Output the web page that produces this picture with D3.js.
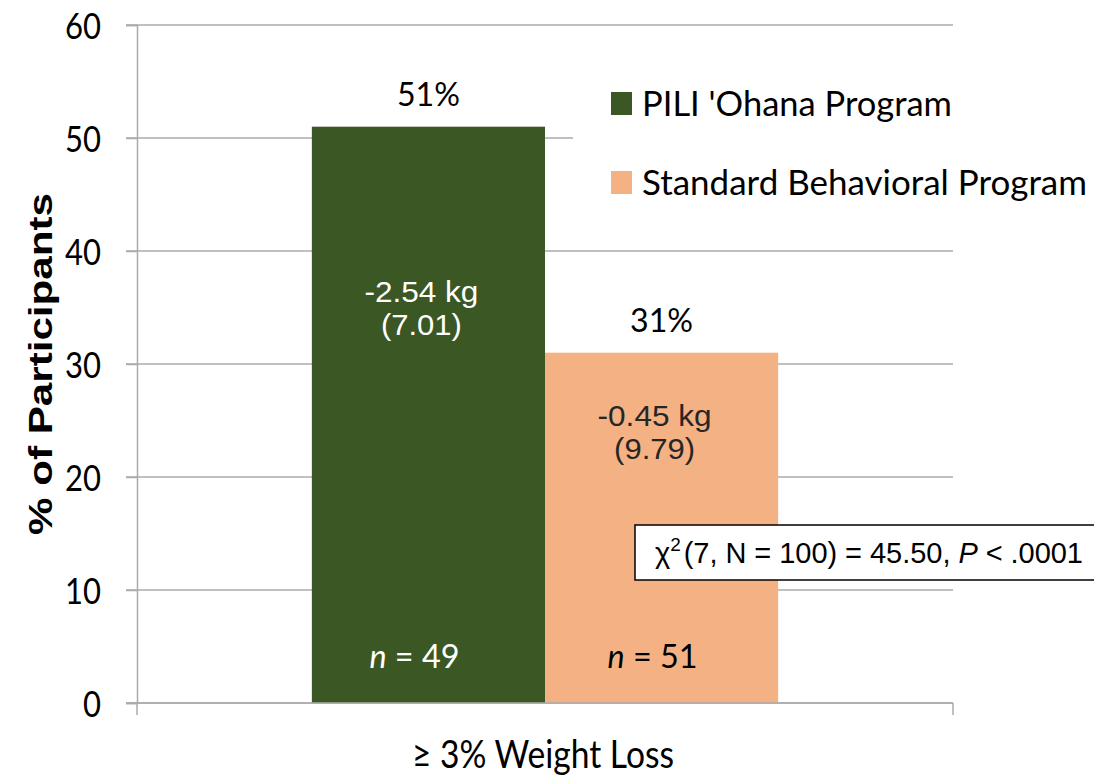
<!DOCTYPE html>
<html>
<head>
<meta charset="utf-8">
<script src="https://cdn.jsdelivr.net/npm/d3@7/dist/d3.min.js"></script>
<style>
  html, body { margin: 0; padding: 0; background: #ffffff; }
  svg { display: block; }
</style>
</head>
<body>
<svg id="chart" width="1094" height="777"></svg>
<script>
// ---- data ----
const categories = ["≥ 3% Weight Loss"];
const seriesNames = ["PILI 'Ohana Program", "Standard Behavioral Program"];
const seriesValues = [51, 31];
const valueLabels = ["51%", "31%"];
const weightChange = ["-2.54 kg", "-0.45 kg"];
const weightSD = ["(7.01)", "(9.79)"];
const sampleSizes = ["49", "51"];
const yTicks = [0, 10, 20, 30, 40, 50, 60];
const yTitle = "% of Participants";
const statParts = { df: "7", N: "100", chi: "45.50", p: ".0001" };

// ---- styles ----
const colors = ["#3A5724", "#F4B183"];
const innerText = ["#ffffff", "#262626"];
const gridColor = "#ABABAB";
const sansC = "Lato, 'Open Sans', sans-serif";
const sansA = "'Liberation Sans', Arial, sans-serif";

const svg = d3.select("#chart");
const plotL = 137, plotR = 953, plotT = 25, plotB = 703;

const y = d3.scaleLinear().domain([0, 60]).range([plotB, plotT]);
const x0 = d3.scaleBand().domain(categories).range([plotL, plotR]).paddingInner(0).paddingOuter(0);
const x1 = d3.scaleBand().domain(seriesNames).range([0, x0.bandwidth()]).paddingInner(0).paddingOuter(0.75);

// gridlines
svg.append("g").selectAll("line").data(yTicks).join("line")
  .attr("x1", plotL - 11).attr("x2", plotR)
  .attr("y1", d => y(d)).attr("y2", d => y(d))
  .attr("stroke", gridColor).attr("stroke-width", 1.5);

// y axis
const yAxis = svg.append("g").attr("transform", `translate(${plotL},0)`)
  .call(d3.axisLeft(y).tickValues(yTicks).tickSize(11).tickPadding(25));
yAxis.select(".domain").attr("stroke", gridColor).attr("stroke-width", 1.5);
yAxis.selectAll(".tick line").attr("stroke", gridColor).attr("stroke-width", 1.5);
yAxis.selectAll(".tick text")
  .attr("font-family", sansC).attr("font-size", 37).attr("fill", "#000")
  .attr("dy", "0.36em")
  .attr("textLength", d => String(d).length * 18)
  .attr("lengthAdjust", "spacingAndGlyphs");

// bars
const groups = svg.append("g").selectAll("g").data(categories).join("g")
  .attr("transform", d => `translate(${x0(d)},0)`);

groups.selectAll("rect").data(seriesNames.map((s, i) => ({ s, i, v: seriesValues[i] })))
  .join("rect")
  .attr("x", d => x1(d.s)).attr("width", x1.bandwidth())
  .attr("y", d => y(d.v)).attr("height", d => y(0) - y(d.v))
  .attr("fill", d => colors[d.i]);

// x axis line and band edge ticks
svg.append("line").attr("x1", plotL - 11).attr("x2", plotR)
  .attr("y1", y(0)).attr("y2", y(0)).attr("stroke", gridColor).attr("stroke-width", 1.5);
svg.append("g").selectAll("line").data(x0.range()).join("line")
  .attr("x1", d => d).attr("x2", d => d)
  .attr("y1", y(0)).attr("y2", y(0) + 12)
  .attr("stroke", gridColor).attr("stroke-width", 1.5);

// x category label
svg.append("g").selectAll("text").data(categories).join("text")
  .attr("x", d => x0(d) + x0.bandwidth() / 2 - 2).attr("y", 768)
  .attr("text-anchor", "middle")
  .attr("font-family", sansC).attr("font-size", 38).attr("fill", "#000")
  .attr("textLength", 262).attr("lengthAdjust", "spacingAndGlyphs")
  .text(d => d);

// value labels above bars
const barData = seriesNames.map((s, i) => ({ s, i, v: seriesValues[i], cx: x0(categories[0]) + x1(s) + x1.bandwidth() / 2 }));

svg.append("g").selectAll("text").data(barData).join("text")
  .attr("x", d => d.cx).attr("y", d => y(d.v) - 21)
  .attr("text-anchor", "middle")
  .attr("font-family", sansC).attr("font-size", 33).attr("fill", "#000")
  .attr("textLength", 63).attr("lengthAdjust", "spacingAndGlyphs")
  .text(d => valueLabels[d.i]);

// weight change labels inside bars
const wY = [302, 426];
svg.append("g").selectAll("text").data(barData).join("text")
  .attr("x", d => d.cx - 7).attr("y", d => wY[d.i])
  .attr("text-anchor", "middle")
  .attr("font-family", sansA).attr("font-size", 30).attr("fill", d => innerText[d.i])
  .attr("textLength", 114).attr("lengthAdjust", "spacingAndGlyphs")
  .text(d => weightChange[d.i]);
svg.append("g").selectAll("text").data(barData).join("text")
  .attr("x", d => d.cx - 7).attr("y", d => wY[d.i] + 33)
  .attr("text-anchor", "middle")
  .attr("font-family", sansA).attr("font-size", 30).attr("fill", d => innerText[d.i])
  .attr("textLength", 81).attr("lengthAdjust", "spacingAndGlyphs")
  .text(d => weightSD[d.i]);

// n labels
const nText = svg.append("g").selectAll("text").data(barData).join("text")
  .attr("x", d => d.cx - 14 + d.i * 5).attr("y", 668)
  .attr("text-anchor", "middle")
  .attr("font-family", sansC).attr("font-size", 33).attr("fill", d => d.i === 0 ? "#ffffff" : "#000")
  .attr("textLength", 90).attr("lengthAdjust", "spacingAndGlyphs");
nText.append("tspan").attr("font-style", "italic").text("n");
nText.append("tspan").text(d => " = " + sampleSizes[d.i]);

// y axis title
svg.append("text")
  .attr("transform", "translate(52,364) rotate(-90)")
  .attr("text-anchor", "middle")
  .attr("font-family", sansA).attr("font-weight", "bold").attr("font-size", 34).attr("fill", "#000")
  .attr("textLength", 342).attr("lengthAdjust", "spacingAndGlyphs")
  .text(yTitle);

// legend (white background covers gridlines)
svg.append("rect").attr("x", 573).attr("y", 72).attr("width", 521).attr("height", 140).attr("fill", "#fff");
const legW = [310, 445];
const leg = svg.append("g").selectAll("g").data(seriesNames).join("g")
  .attr("transform", (d, i) => `translate(611,${92 + i * 79})`);
leg.append("rect").attr("width", 21).attr("height", 23).attr("fill", (d, i) => colors[i]);
leg.append("text").attr("x", 31).attr("y", 24)
  .attr("font-family", sansC).attr("font-size", 35).attr("fill", "#000")
  .attr("textLength", (d, i) => legW[i]).attr("lengthAdjust", "spacingAndGlyphs")
  .text(d => d);

// statistics box
svg.append("rect").attr("x", 635).attr("y", 525).attr("width", 480).attr("height", 55)
  .attr("fill", "#fff").attr("stroke", "#000").attr("stroke-width", 1.5);
const st = svg.append("text").attr("x", 655).attr("y", 563)
  .attr("font-family", sansA).attr("font-size", 29).attr("fill", "#000")
  .attr("textLength", 428).attr("lengthAdjust", "spacing");
st.append("tspan").text("χ");
st.append("tspan").attr("font-size", 19).attr("dy", -12).text("2");
st.append("tspan").attr("dy", 12).attr("dx", 3).text(`(${statParts.df}, N = ${statParts.N}) = ${statParts.chi}, `);
st.append("tspan").attr("font-style", "italic").text("P");
st.append("tspan").text(` < ${statParts.p}`);
</script>
</body>
</html>
